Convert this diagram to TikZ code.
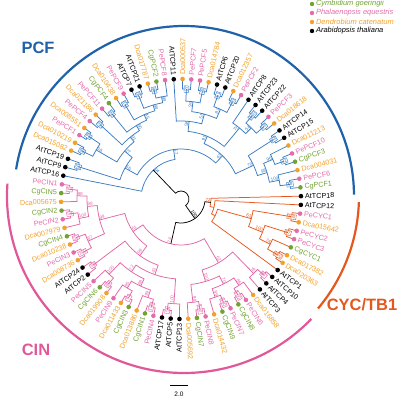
\documentclass[tikz,border=0pt]{standalone}
\usepackage{fontspec}
\setmainfont{Liberation Sans}
\definecolor{pcfb}{HTML}{3B7DC2}
\definecolor{pcfdark}{HTML}{1F62AA}
\definecolor{cinp}{HTML}{E266A6}
\definecolor{cindark}{HTML}{E0589A}
\definecolor{cycr}{HTML}{E4581E}
\definecolor{cgc}{HTML}{72A232}
\definecolor{pec}{HTML}{E46CAA}
\definecolor{dcac}{HTML}{F2A12A}
\definecolor{atc}{HTML}{000000}
\colorlet{bcol}{black}

\tikzset{
  branch/.style={line width=0.75bp},
  leafdot/.style={circle, inner sep=0pt, minimum size=4.6bp},
  leaflab/.style={font=\fontsize{7.2}{8}\selectfont, inner sep=0pt},
  boot/.style={font=\fontsize{4.6}{5}\selectfont, inner sep=0.3bp, text=bcol},
  bootbox/.style={boot, anchor=center, draw=bcol, fill=white, line width=0.4bp, inner sep=0.7bp},
  cladearc/.style={line width=2.2bp},
  cladename/.style={font=\fontsize{16.5}{18}\selectfont\bfseries},
  legdot/.style={circle, inner sep=0pt, minimum size=4.4bp},
  legtext/.style={font=\fontsize{7.5}{8}\selectfont\itshape, anchor=west, inner sep=1.5bp},
}

% one binary split: colour, label style, radius, child 1 (position, radius), child 2 (position, radius), support
\newcommand{\brn}[8]{%
  \pgfmathsetmacro\bA{168.8-#4*4.186}%
  \pgfmathsetmacro\bB{168.8-#6*4.186}%
  \pgfmathsetmacro\bM{(\bA+\bB)/2}%
  \pgfmathtruncatemacro\bF{or(\bM>90,\bM<-90)}%
  \draw[branch,#1] (\bA:#5) -- (\bA:#3) arc[start angle=\bA, end angle=\bB, radius=#3] -- (\bB:#7);%
  \def\bLbl{#8}%
  \ifx\bLbl\empty\else
    \colorlet{bcol}{#1}%
    \ifnum\bF=1 \def\bAnc{south west}\def\bRot{\bM+180}\else\def\bAnc{south east}\def\bRot{\bM}\fi
    \node[rotate=\bRot, anchor=\bAnc, #2] at (\bM:#3) {#8};%
  \fi
}

\begin{document}
\begin{tikzpicture}[x=1bp, y=1bp]
\useasboundingbox (-181,-200) rectangle (219,199);

% clade arcs
\begin{scope}[shift={(3,3)}]
  \draw[cladearc, pcfdark] (0.5:170) arc[start angle=0.5, end angle=171, radius=170];
  \draw[cladearc, cycr] (-2:175) arc[start angle=-2, end angle=-40, radius=175];
  \draw[cladearc, cindark] (-44:177) arc[start angle=-44, end angle=-184, radius=177];
\end{scope}
\node[cladename, pcfdark] (pcf) at (-143,151) {PCF};
\node[cladename, cindark] (cin) at (-145,-151) {CIN};
\node[cladename, cycr] (cyc) at (181,-106) {CYC/TB1};

% PCF
\brn{pcfb}{bootbox}{108}{1}{120}{2}{120}{61}
\brn{pcfb}{bootbox}{110}{3}{120}{4}{120}{98}
\brn{pcfb}{bootbox}{112}{5}{120}{6}{120}{85}
\brn{pcfb}{bootbox}{110}{7}{120}{8}{120}{62}
\brn{pcfb}{bootbox}{110}{9}{120}{10}{120}{92}
\brn{pcfb}{bootbox}{110}{11}{120}{12}{120}{85}
\brn{pcfb}{bootbox}{112}{13}{120}{14}{120}{50}
\brn{pcfb}{bootbox}{112}{15}{120}{16}{120}{96}
\brn{pcfb}{boot}{98}{3.5}{110}{5.5}{112}{58}
\brn{pcfb}{boot}{104}{15.5}{112}{17}{120}{99}
\brn{pcfb}{boot}{98}{13.5}{112}{16.25}{104}{48}
\brn{pcfb}{boot}{92}{11.5}{110}{14.875}{98}{45}
\brn{pcfb}{boot}{86}{9.5}{110}{13.1875}{92}{90}
\brn{pcfb}{boot}{80}{7.5}{110}{11.34375}{86}{91}
\brn{pcfb}{boot}{74}{4.5}{98}{9.421875}{80}{77}
\brn{pcfb}{boot}{64}{1.5}{108}{6.9609}{74}{66}
\brn{pcfb}{bootbox}{110}{19}{120}{20}{120}{27}
\brn{pcfb}{bootbox}{110}{21}{120}{22}{120}{26}
\brn{pcfb}{bootbox}{110}{23}{120}{24}{120}{51}
\brn{pcfb}{bootbox}{110}{25}{120}{26}{120}{80}
\brn{pcfb}{bootbox}{110}{28}{120}{29}{120}{100}
\brn{pcfb}{bootbox}{110}{30}{120}{31}{120}{98}
\brn{pcfb}{boot}{98}{19.5}{110}{21.5}{110}{99}
\brn{pcfb}{boot}{98}{23.5}{110}{25.5}{110}{81}
\brn{pcfb}{boot}{88}{20.5}{98}{24.5}{98}{55}
\brn{pcfb}{boot}{78}{18}{120}{22.5}{88}{58}
\brn{pcfb}{boot}{100}{28.5}{110}{30.5}{110}{54}
\brn{pcfb}{boot}{92}{27}{120}{29.5}{100}{77}
\brn{pcfb}{boot}{68}{20.25}{78}{28.25}{92}{95}
\brn{pcfb}{bootbox}{110}{32}{120}{33}{120}{28}
\brn{pcfb}{bootbox}{110}{35}{120}{36}{120}{21}
\brn{pcfb}{boot}{100}{34}{120}{35.5}{110}{96}
\brn{pcfb}{bootbox}{110}{38}{120}{39}{120}{48}
\brn{pcfb}{boot}{100}{37}{120}{38.5}{110}{100}
\brn{pcfb}{boot}{90}{34.75}{100}{37.75}{100}{98}
\brn{pcfb}{boot}{80}{32.5}{110}{36.25}{90}{70}
\brn{pcfb}{boot}{60}{24.25}{68}{34.375}{80}{43}
\brn{pcfb}{boot}{50}{4.2305}{64}{29.3125}{60}{57}
\brn{pcfb}{boot}{40}{0}{120}{16.7715}{50}{94}

% CYC/TB1
\brn{cycr}{bootbox}{112}{42}{120}{43}{120}{100}
\brn{cycr}{bootbox}{112}{44}{120}{45}{120}{87}
\brn{cycr}{bootbox}{112}{47}{120}{48}{120}{100}
\brn{cycr}{boot}{100}{46}{120}{47.5}{112}{74}
\brn{cycr}{boot}{88}{44.5}{112}{46.75}{100}{100}
\brn{cycr}{boot}{73}{42.5}{112}{45.625}{88}{63}
\brn{cycr}{boot}{38}{44.0625}{73}{49}{120}{}
\brn{cycr}{boot}{34}{41}{120}{46.53125}{38}{}
\brn{cycr}{boot}{30}{40}{120}{43.765625}{34}{72}

% CIN
\brn{cinp}{bootbox}{112}{50}{120}{51}{120}{96}
\brn{cinp}{boot}{104}{50.5}{112}{52}{120}{78}
\brn{cinp}{bootbox}{112}{54}{120}{55}{120}{100}
\brn{cinp}{bootbox}{112}{56}{120}{57}{120}{100}
\brn{cinp}{boot}{104}{53}{120}{54.5}{112}{86}
\brn{cinp}{boot}{104}{56.5}{112}{58}{120}{99}
\brn{cinp}{boot}{95}{53.75}{104}{57.25}{104}{70}
\brn{cinp}{bootbox}{112}{59}{120}{60}{120}{100}
\brn{cinp}{boot}{104}{59.5}{112}{61}{120}{98}
\brn{cinp}{boot}{86}{55.5}{95}{60.25}{104}{100}
\brn{cinp}{boot}{74}{51.25}{104}{57.875}{86}{62}
\brn{cinp}{bootbox}{112}{63}{120}{64}{120}{51}
\brn{cinp}{boot}{105}{62}{120}{63.5}{112}{100}
\brn{cinp}{bootbox}{112}{65}{120}{66}{120}{100}
\brn{cinp}{boot}{104}{65.5}{112}{67}{120}{99}
\brn{cinp}{bootbox}{112}{68}{120}{69}{120}{97}
\brn{cinp}{boot}{104}{68.5}{112}{70}{120}{95}
\brn{cinp}{boot}{96}{66.25}{104}{69.25}{104}{88}
\brn{cinp}{bootbox}{112}{71}{120}{72}{120}{99}
\brn{cinp}{boot}{104}{71.5}{112}{73}{120}{100}
\brn{cinp}{boot}{88}{67.75}{96}{72.25}{104}{72}
\brn{cinp}{boot}{80}{62.75}{105}{70}{88}{43}
\brn{cinp}{bootbox}{110}{74}{120}{75}{120}{68}
\brn{cinp}{boot}{70}{66.375}{80}{74.5}{110}{99}
\brn{cinp}{bootbox}{112}{76}{120}{77}{120}{100}
\brn{cinp}{bootbox}{112}{78}{120}{79}{120}{52}
\brn{cinp}{boot}{102}{76.5}{112}{78.5}{112}{87}
\brn{cinp}{bootbox}{112}{81}{120}{82}{120}{54}
\brn{cinp}{boot}{104}{80}{120}{81.5}{112}{100}
\brn{cinp}{bootbox}{112}{84}{120}{85}{120}{54}
\brn{cinp}{boot}{104}{83}{120}{84.5}{112}{98}
\brn{cinp}{boot}{94}{80.75}{104}{83.75}{104}{98}
\brn{cinp}{boot}{84}{77.5}{102}{82.25}{94}{99}
\brn{cinp}{boot}{58}{70.4375}{70}{79.875}{84}{61}
\brn{cinp}{boot}{46}{54.5625}{74}{75.15625}{58}{74}

% root
\brn{black}{boot}{24}{41.8828}{30}{64.8594}{46}{100}
\brn{black}{boot}{8}{8.3857}{40}{53.3711}{24}{}

% leaves
\foreach \nm/\cl [count=\j from 0] in {AtTCP16/atc, AtTCP9/atc, AtTCP19/atc,
    Dca015082/dcac, Dca010219/dcac, PePCF1/pec, Dca008551/dcac, PePCF4/pec,
    Dca021186/dcac, PePCF11/pec, CgPCF4/cgc, Dca010438/dcac, PePCF9/pec,
    AtTCP7/atc, AtTCP21/atc, Dca017787/dcac, CgPCF2/cgc, PePCF8/pec,
    AtTCP11/atc, Dca000537/dcac, PePCF7/pec, PePCF5/pec, Dca014784/dcac,
    AtTCP6/atc, AtTCP20/atc, Dca012357/dcac, PePCF2/pec, AtTCP8/atc,
    AtTCP23/atc, AtTCP22/atc, PePCF3/pec, Dca018618/dcac, AtTCP14/atc,
    AtTCP15/atc, Dca011213/dcac, PePCF10/pec, CgPCF3/cgc, Dca004031/dcac,
    PePCF6/pec, CgPCF1/cgc, AtTCP18/atc, AtTCP12/atc, PeCYC1/pec,
    Dca015642/dcac, PeCYC2/pec, PeCYC3/pec, CgCYC1/cgc, Dca017382/dcac,
    Dca020363/dcac, AtTCP1/atc, AtTCP10/atc, AtTCP4/atc, AtTCP3/atc,
    Dca016858/dcac, PeCIN6/pec, CgCIN8/cgc, PeCIN7/pec, CgCIN9/cgc,
    Dca014432/dcac, PeCIN8/pec, CgCIN7/cgc, Dca005692/dcac, AtTCP13/atc,
    AtTCP5/atc, AtTCP17/atc, PeCIN4/pec, CgCIN1/cgc, Dca013886/dcac,
    CgCIN3/cgc, Dca011433/dcac, PeCIN9/pec, Dca019908/dcac, CgCIN6/cgc,
    PeCIN5/pec, AtTCP2/atc, AtTCP24/atc, Dca008736/dcac, PeCIN3/pec,
    Dca010238/dcac, CgCIN4/cgc, Dca007979/dcac, PeCIN2/pec, CgCIN2/cgc,
    Dca005675/dcac, CgCIN5/cgc, PeCIN1/pec} {
  \pgfmathsetmacro\la{168.8-\j*4.186}
  \pgfmathtruncatemacro\flip{or(\la>90,\la<-90)}
  \node[leafdot, fill=\cl] (\nm) at (\la:120) {};
  \ifnum\flip=1
    \node[leaflab, text=\cl, anchor=east, rotate=\la+180] at (\la:124) {\nm};
  \else
    \node[leaflab, text=\cl, anchor=west, rotate=\la] at (\la:124) {\nm};
  \fi
}

% legend
\foreach \sp/\cl [count=\k from 0] in {Cymbidium goeringii/cgc,
    Phalaenopsis equestris/pec, Dendrobium catenatum/dcac,
    Arabidopsis thaliana/atc} {
  \node[legdot, fill=\cl] (leg\k) at (131,195-\k*9) {};
  \node[legtext, text=\cl] (legtxt\k) at (leg\k.east) {\sp};
}

% scale bar
\coordinate (sbl) at (-11,-186);
\coordinate (sbr) at (7,-186);
\draw[line width=0.7bp] (sbl) -- (sbr);
\node[font=\fontsize{6.5}{7}\selectfont] (sbtxt) at (-2,-195) {2.0};
\end{tikzpicture}
\end{document}
